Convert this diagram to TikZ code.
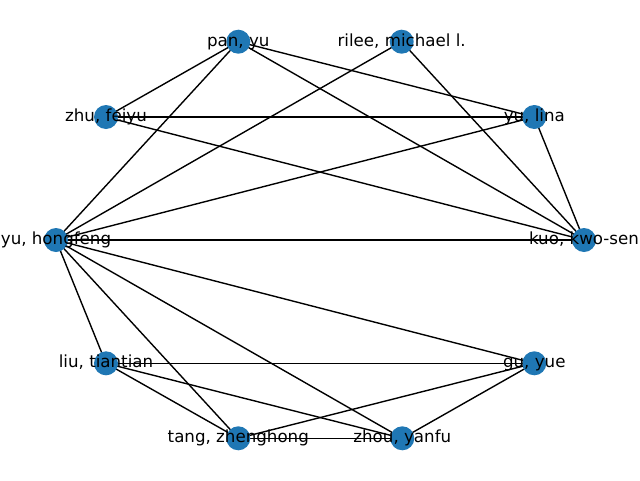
\documentclass[tikz,border=0pt]{standalone}
\usepackage{fontspec}
\setmainfont{DejaVu Sans}
\pgfdeclarelayer{edges}
\pgfsetlayers{edges,main}
\begin{document}
\begin{tikzpicture}[x=1pt,y=-1pt,
  vertex/.style={circle,fill=nodeblue,draw=none,minimum size=24pt,inner sep=0pt},
  vlabel/.style={font=\fontsize{16.67}{20}\selectfont,inner sep=0pt,text height=12.7pt,text depth=4pt,anchor=center},
  edge/.style={black,line width=1.39pt}]
\definecolor{nodeblue}{HTML}{1F77B4}
\useasboundingbox (0,0) rectangle (640,480);
% vertex positions on the circle
\coordinate (p1) at (238.3,41.7);
\coordinate (p2) at (401.7,41.7);
\coordinate (p3) at (106,117);
\coordinate (p4) at (534.3,117);
\coordinate (p5) at (56,240);
\coordinate (p6) at (584,240);
\coordinate (p7) at (106,363.3);
\coordinate (p8) at (534.3,363.3);
\coordinate (p9) at (238.3,438.3);
\coordinate (p10) at (402.3,438.3);
% discs
\node[vertex] (pan) at (p1) {};
\node[vertex] (rilee) at (p2) {};
\node[vertex] (zhu) at (p3) {};
\node[vertex] (lina) at (p4) {};
\node[vertex] (hong) at (p5) {};
\node[vertex] (kuo) at (p6) {};
\node[vertex] (liu) at (p7) {};
\node[vertex] (gu) at (p8) {};
\node[vertex] (tang) at (p9) {};
\node[vertex] (zhou) at (p10) {};
% edges, beneath the discs
\begin{pgfonlayer}{edges}
\foreach \a/\b in {pan/zhu,pan/lina,pan/kuo,pan/hong,rilee/hong,rilee/kuo,
  zhu/lina,zhu/kuo,lina/hong,lina/kuo,hong/kuo,hong/liu,hong/gu,hong/tang,
  hong/zhou,liu/gu,liu/tang,liu/zhou,tang/gu,tang/zhou,zhou/gu}
  \draw[edge] (\a.center) -- (\b.center);
\end{pgfonlayer}
% labels on top
\node[vlabel] (tpan) at (p1) {pan, yu};
\node[vlabel] (trilee) at (p2) {rilee, michael l.};
\node[vlabel] (tzhu) at (p3) {zhu, feiyu};
\node[vlabel] (tlina) at (p4) {yu, lina};
\node[vlabel] (thong) at (p5) {yu, hongfeng};
\node[vlabel] (tkuo) at (p6) {kuo, kwo-sen};
\node[vlabel] (tliu) at (p7) {liu, tiantian};
\node[vlabel] (tgu) at (p8) {gu, yue};
\node[vlabel] (ttang) at (p9) {tang, zhenghong};
\node[vlabel] (tzhou) at (p10) {zhou, yanfu};
\end{tikzpicture}
\end{document}
